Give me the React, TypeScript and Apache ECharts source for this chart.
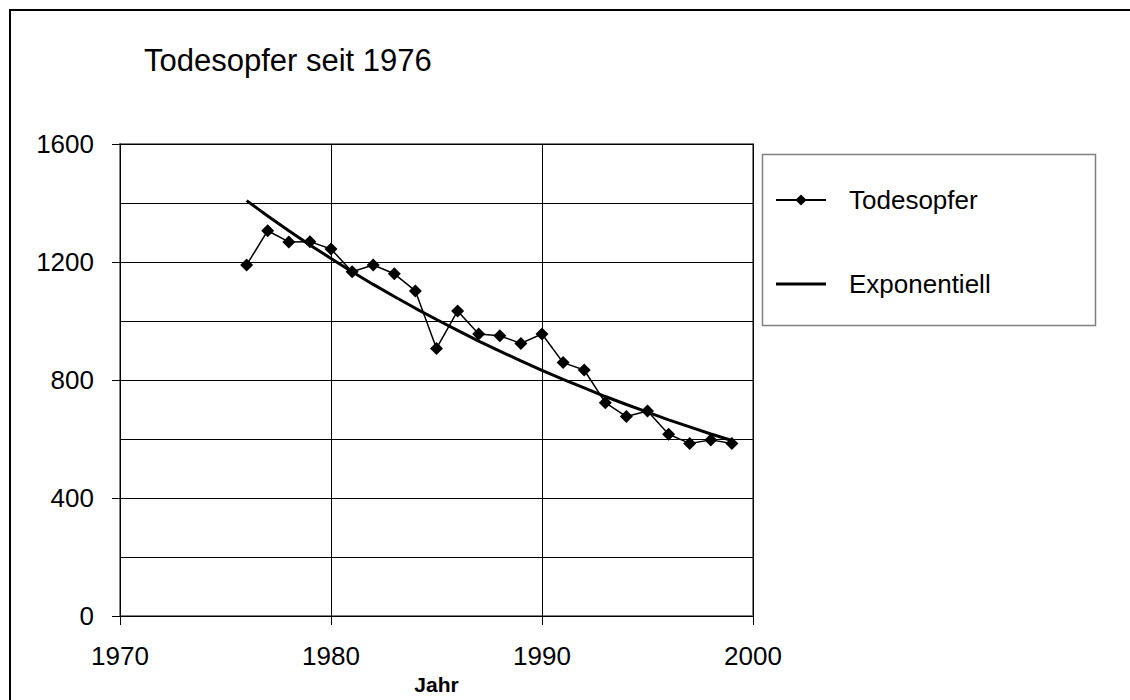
import React, { useEffect, useRef } from "react";
import * as echarts from "echarts";

const years = [1976, 1977, 1978, 1979, 1980, 1981, 1982, 1983, 1984, 1985, 1986, 1987, 1988, 1989, 1990, 1991, 1992, 1993, 1994, 1995, 1996, 1997, 1998, 1999];
const todesopfer = [1190, 1306, 1268, 1269, 1244, 1167, 1190, 1160, 1102, 907, 1034, 956, 950, 924, 956, 859, 834, 723, 676, 695, 616, 585, 597, 585];
const exponentiell = [1408, 1356, 1306, 1258, 1212, 1167, 1124, 1083, 1043, 1005, 968, 932, 898, 865, 833, 802, 773, 744, 717, 691, 665, 641, 617, 595];

const titleText = "Todesopfer seit 1976";
const xName = "Jahr";
const seriesNames = ["Todesopfer", "Exponentiell"];

export default function App() {
  const ref = useRef<HTMLDivElement>(null);
  useEffect(() => {
    document.body.style.margin = "0";
    const chart = echarts.init(ref.current!, null, { renderer: "svg" });
    const font = "Liberation Sans";
    chart.setOption({
      animation: false,
      backgroundColor: "#ffffff",
      textStyle: { fontFamily: font, color: "#000" },
      title: {
        text: titleText,
        left: 139,
        top: 40,
        textStyle: { fontFamily: font, fontSize: 31, fontWeight: "normal", color: "#000" },
      },
      graphic: [
        {
          type: "rect",
          shape: { x: 10, y: 10, width: 1300, height: 900 },
          style: { fill: "none", stroke: "#000", lineWidth: 2 },
          silent: true,
        },
        {
          type: "rect",
          shape: { x: 762.5, y: 154.5, width: 333, height: 171 },
          style: { fill: "#fff", stroke: "#808080", lineWidth: 1.5 },
          silent: true,
          z: -1,
        },
      ],
      legend: {
        data: [
          { name: seriesNames[0] },
          { name: seriesNames[1], icon: "path://M0,0L50,0L50,3L0,3Z" },
        ],
        orient: "vertical",
        left: 770,
        top: 182,
        itemWidth: 50,
        itemHeight: 14,
        itemGap: 58,
        symbolKeepAspect: true,
        textStyle: { fontFamily: font, fontSize: 26, color: "#000", padding: [0, 0, 0, 18] },
      },
      grid: {
        left: 120,
        right: 377,
        top: 144,
        bottom: 84,
        show: true,
        borderColor: "#808080",
        borderWidth: 2,
        backgroundColor: "transparent",
      },
      xAxis: {
        type: "value",
        min: 1970,
        max: 2000,
        interval: 10,
        name: xName,
        nameLocation: "middle",
        nameGap: 54,
        nameTextStyle: { fontFamily: font, fontSize: 21, fontWeight: "bold", color: "#000" },
        axisLine: { show: true, lineStyle: { color: "#000", width: 1 } },
        axisTick: { show: true, length: 9, lineStyle: { color: "#000" } },
        axisLabel: { fontFamily: font, fontSize: 26, color: "#000", margin: 27, formatter: (v: number) => String(v) },
        splitLine: { show: true, lineStyle: { color: "#000", width: 1 } },
      },
      yAxis: {
        type: "value",
        min: 0,
        max: 1600,
        interval: 400,
        axisLine: { show: true, lineStyle: { color: "#000", width: 1 } },
        axisTick: { show: true, length: 8, lineStyle: { color: "#000" } },
        axisLabel: { fontFamily: font, fontSize: 26, color: "#000", margin: 26, formatter: (v: number) => String(v) },
        splitLine: { show: true, lineStyle: { color: "#000", width: 1 } },
        minorTick: { show: false, splitNumber: 2 },
        minorSplitLine: { show: true, lineStyle: { color: "#000", width: 1 } },
      },
      series: [
        {
          name: seriesNames[0],
          type: "line",
          data: years.map((y, i) => [y, todesopfer[i]]),
          symbol: "diamond",
          symbolSize: 13,
          itemStyle: { color: "#000" },
          lineStyle: { color: "#000", width: 1.5 },
          z: 3,
        },
        {
          name: seriesNames[1],
          type: "line",
          data: years.map((y, i) => [y, exponentiell[i]]),
          symbol: "none",
          itemStyle: { color: "#000" },
          lineStyle: { color: "#000", width: 3 },
          z: 2,
        },
      ],
    });
    return () => chart.dispose();
  }, []);
  return <div ref={ref} style={{ width: 1130, height: 700 }} />;
}
